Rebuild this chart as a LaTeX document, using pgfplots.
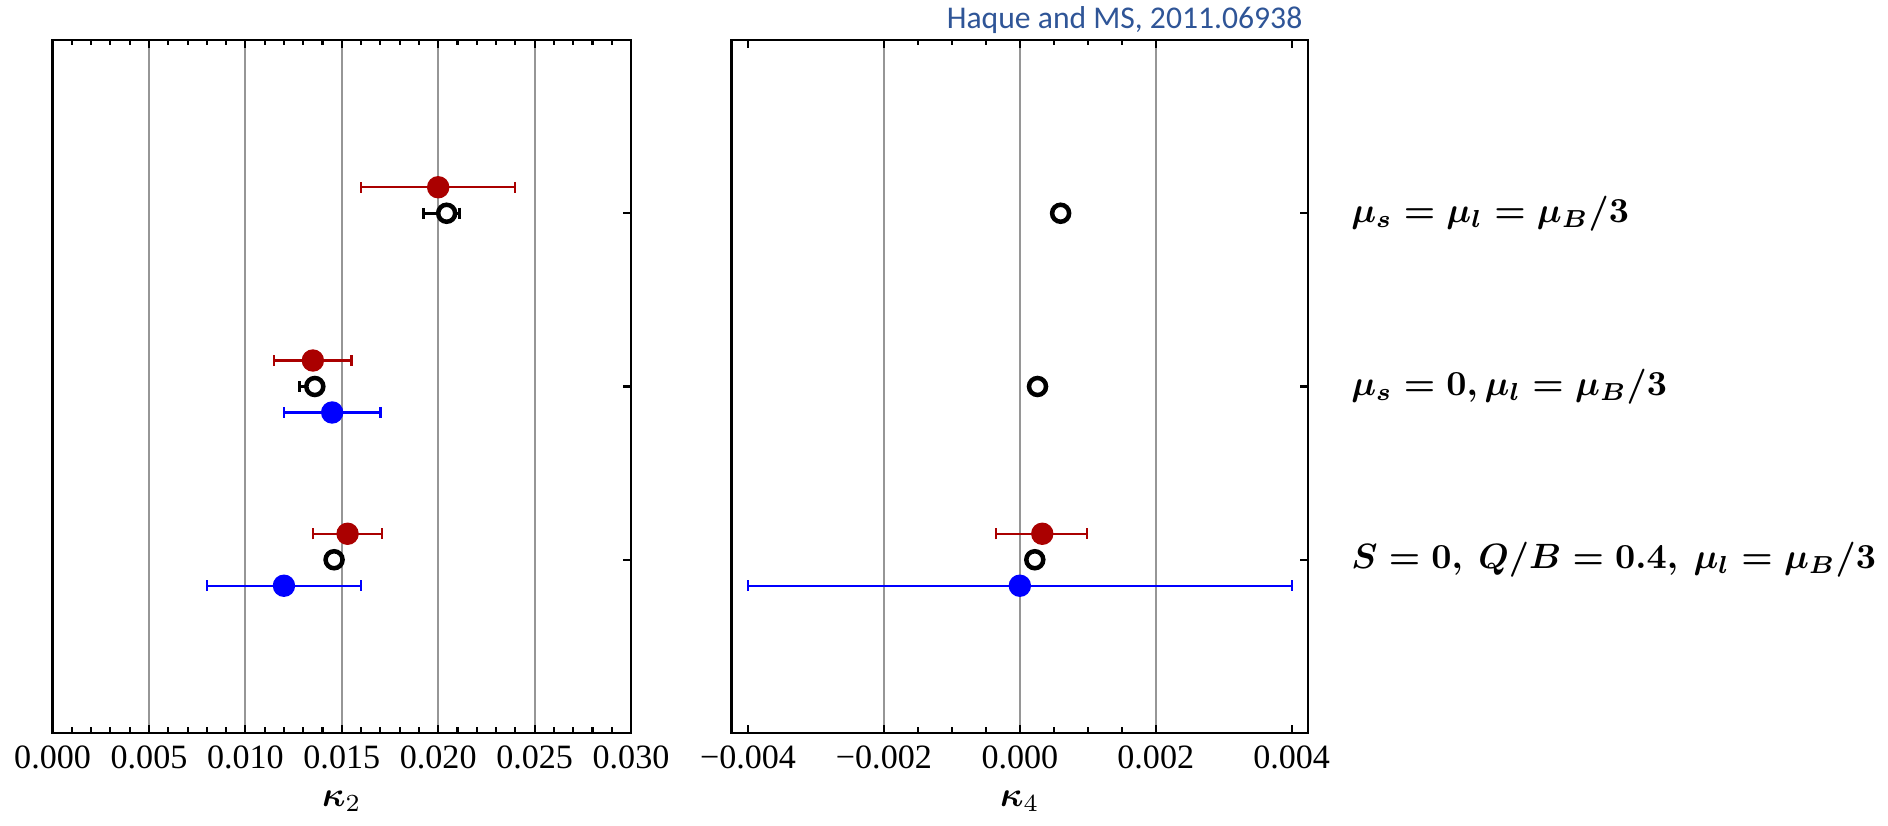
\documentclass[border=0pt]{standalone}
\usepackage{fontspec}
\setmainfont{Liberation Serif}
\newfontfamily\annfont{Carlito}
\usepackage{amsmath}
\usepackage{pgfplots}
\pgfplotsset{compat=1.18}

\definecolor{mred}{RGB}{170,0,0}
\definecolor{mblue}{RGB}{0,0,255}
\definecolor{gridgray}{RGB}{150,150,150}
\definecolor{annblue}{RGB}{47,85,151}

% x  y  error plus  error minus
\pgfplotstableread{
x y ep em
0.0200 3.15 0.0040 0.0040
0.0135 2.15 0.0020 0.0020
0.0153 1.15 0.0018 0.0018
}\kaptwored
\pgfplotstableread{
x y ep em
0.0145 1.85 0.0025 0.0025
0.0120 0.85 0.0040 0.0040
}\kaptwoblue
\pgfplotstableread{
x y ep em
0.02044 3 0.00065 0.0012
0.0136 2 0.0004 0.0008
0.0146 1 0 0
}\kaptwoopen
\pgfplotstableread{
x y ep em
0.00033 1.15 0.00066 0.00068
}\kapfourred
\pgfplotstableread{
x y ep em
0.0 0.85 0.0040 0.0040
}\kapfourblue
\pgfplotstableread{
x y ep em
0.0006 3 0 0
0.00026 2 0 0
0.00022 1 0 0
}\kapfouropen

\pgfplotsset{
  panel/.style={
    scale only axis, height=69.3mm,
    ymin=0, ymax=4, ytick={1,2,3}, yticklabels={}, ytick pos=right,
    xtick pos=both, tick align=inside, scaled x ticks=false,
    axis line style={line width=0.75pt},
    tick style={black, line width=0.6pt},
    major tick length=0.8mm, minor tick length=0.55mm,
    xmajorgrids, grid style={gridgray, line width=0.55pt},
    xticklabel style={font=\fontsize{9.7}{11}\selectfont},
    xlabel style={at={(axis description cs:0.5,-0.098)}, anchor=center,
      font=\fontsize{10}{12}\selectfont},
    clip=false,
  },
  dot/.style={only marks, mark=*, mark size=1.05mm, color=#1,
    error bars/.cd, x dir=both, x explicit,
    error bar style={line width=0.65pt, #1},
    error mark options={rotate=90, #1, mark size=0.55mm, line width=0.65pt}},
  ring/.style={only marks, mark=*, mark size=0.85mm, color=black,
    mark options={fill=white, draw=black, line width=0.45mm},
    error bars/.cd, x dir=both, x explicit,
    error bar style={line width=0.8pt, black},
    error mark options={rotate=90, black, mark size=0.55mm, line width=0.8pt}},
}

\begin{document}
\begin{tikzpicture}
\useasboundingbox (-5.26mm,-9.3mm) rectangle (183.54mm,73.3mm);

\begin{axis}[panel, width=57.84mm,
  xmin=0, xmax=0.030,
  xtick={0,0.005,0.010,0.015,0.020,0.025,0.030},
  xticklabels={0.000,0.005,0.010,0.015,0.020,0.025,0.030},
  minor x tick num=4,
  xlabel={$\boldsymbol{\kappa}_2$}]
\addplot[dot=mred] table[x=x, y=y, x error plus=ep, x error minus=em]{\kaptwored};
\addplot[dot=mblue] table[x=x, y=y, x error plus=ep, x error minus=em]{\kaptwoblue};
\addplot[ring] table[x=x, y=y, x error plus=ep, x error minus=em]{\kaptwoopen};
\end{axis}

\begin{axis}[panel, at={(67.91mm,0)}, width=57.63mm,
  xmin=-0.00424, xmax=0.00424,
  xtick={-0.002,0,0.002},
  xticklabels={−0.002,0.000,0.002},
  extra x ticks={-0.004,0.004},
  extra x tick labels={−0.004,0.004},
  extra x tick style={grid=none},
  minor x tick num=3,
  xlabel={$\boldsymbol{\kappa}_4$}]
\addplot[dot=mred] table[x=x, y=y, x error plus=ep, x error minus=em]{\kapfourred};
\addplot[dot=mblue] table[x=x, y=y, x error plus=ep, x error minus=em]{\kapfourblue};
\addplot[ring] table[x=x, y=y, x error plus=ep, x error minus=em]{\kapfouropen};
\end{axis}

% annotation and row labels, placed in mm relative to the left axis origin
\node[anchor=base east, inner sep=0, text=annblue,
  font=\annfont\fontsize{9}{11}\selectfont] at (125.04mm,70.4mm) {Haque and MS, 2011.06938};
\node[anchor=west, inner sep=0, font=\fontsize{10}{12}\selectfont]
  at (129.8mm,51.975mm) {$\boldsymbol{\mu_s = \mu_l = \mu_B/3}$};
\node[anchor=west, inner sep=0, font=\fontsize{10}{12}\selectfont]
  at (129.8mm,34.65mm) {$\boldsymbol{\mu_s = 0, \mu_l = \mu_B/3}$};
\node[anchor=west, inner sep=0, font=\fontsize{10}{12}\selectfont]
  at (129.8mm,17.325mm) {$\boldsymbol{S = 0,\ Q/B = 0.4,\ \mu_l = \mu_B/3}$};
\end{tikzpicture}
\end{document}
